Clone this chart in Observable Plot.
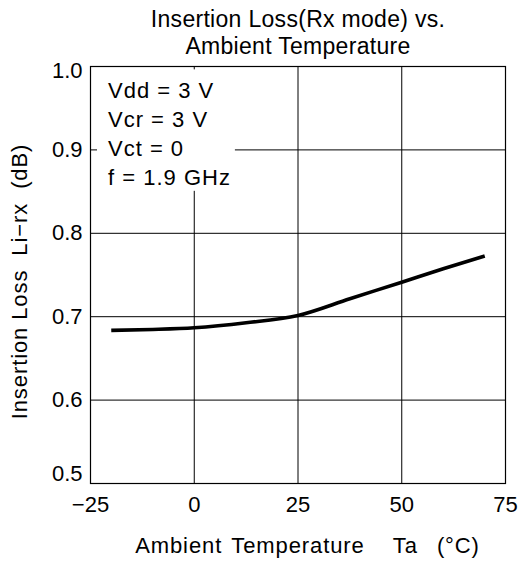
<!DOCTYPE html>
<html>
<head>
<meta charset="utf-8">
<script src="https://cdn.jsdelivr.net/npm/d3@7"></script>
<script src="https://cdn.jsdelivr.net/npm/@observablehq/plot@0.6"></script>
<style>
  html, body { margin: 0; padding: 0; background: #fff; }
  svg text { font-family: "Liberation Sans", Arial, Helvetica, sans-serif; }
  .cond text { letter-spacing: 1px; }
  .lbl text { letter-spacing: 0.9px; }
  .xlbl text { letter-spacing: 0.9px; word-spacing: 2.5px; }
  .ttl text { letter-spacing: 0.3px; }
</style>
</head>
<body>
<div id="chart"></div>
<script>
// ---- data ----
const titleLines = ["Insertion Loss(Rx mode) vs.", "Ambient Temperature"];
const xLabel = "Ambient Temperature   Ta  (°C)";
const yLabel = "Insertion Loss  Li−rx  (dB)";
const conditions = ["Vdd = 3 V", "Vcr = 3 V", "Vct = 0", "f = 1.9 GHz"];
const xTicks = [-25, 0, 25, 50, 75];
const yTicks = [0.5, 0.6, 0.7, 0.8, 0.9, 1.0];
const temps = [-20, -10, 0, 12.5, 25, 37.5, 50, 60, 70];
const loss = [0.6836, 0.6847, 0.6867, 0.6927, 0.7015, 0.7215, 0.7414, 0.7574, 0.7727];

const curve = temps.map((t, i) => ({t, v: loss[i]}));
const font = "Liberation Sans, Arial, Helvetica, sans-serif";

const chart = Plot.plot({
  width: 525,
  height: 563,
  marginLeft: 90,
  marginRight: 20,
  marginTop: 66,
  marginBottom: 80,
  style: {fontFamily: font, fontSize: "22px", color: "#000", background: "#fff"},
  x: {domain: [-25, 75], ticks: xTicks},
  y: {domain: [0.5, 1.0], ticks: yTicks},
  marks: [
    Plot.gridX(xTicks.slice(1, -1), {stroke: "#000", strokeOpacity: 1, strokeWidth: 1}),
    Plot.gridY(yTicks.slice(1, -1), {stroke: "#000", strokeOpacity: 1, strokeWidth: 1}),
    Plot.frame({stroke: "#000", strokeWidth: 1.2}),
    Plot.axisX({ticks: xTicks, tickSize: 0, tickPadding: 13, fontSize: 22, label: null, tickFormat: d => d < 0 ? "−" + Math.abs(d) : String(d)}),
    Plot.axisY({ticks: yTicks.filter(d => d > 0.5 && d < 1), tickSize: 0, tickPadding: 8, fontSize: 22, label: null, tickFormat: ".1f"}),
    Plot.axisY({ticks: [1.0], tickSize: 0, tickPadding: 8, fontSize: 22, label: null, tickFormat: ".1f", dy: 4}),
    Plot.axisY({ticks: [0.5], tickSize: 0, tickPadding: 8, fontSize: 22, label: null, tickFormat: ".1f", dy: -10}),
    Plot.line(curve, {x: "t", y: "v", curve: "monotone-x", stroke: "#000", strokeWidth: 3.6, strokeLinecap: "butt"}),
    Plot.text([conditions.join("\n")], {
      frameAnchor: "top-left", textAnchor: "start", lineAnchor: "top",
      dx: 17.5, dy: 11.2, fontSize: 22, lineHeight: 1.31, fill: "#000", className: "cond"
    }),
    Plot.text([titleLines.join("\n")], {
      frameAnchor: "top", lineAnchor: "bottom", dy: -13, fontSize: 23, lineHeight: 1.174, fill: "#000", className: "ttl"
    }),
    Plot.text([xLabel], {
      frameAnchor: "bottom", lineAnchor: "bottom", dx: 9.5, dy: 69, fontSize: 22, fill: "#000", className: "xlbl"
    }),
    Plot.text([yLabel], {
      frameAnchor: "left", textAnchor: "middle", rotate: -90, lineAnchor: "top", dx: -79, dy: 6.5, fontSize: 22, fill: "#000", className: "lbl"
    })
  ]
});
document.getElementById("chart").appendChild(chart);

// white background box behind the condition text (gaps the grid lines)
const g = chart.querySelector("g.cond");
if (g) {
  const b = g.getBBox();
  const ns = "http://www.w3.org/2000/svg";
  const r = document.createElementNS(ns, "rect");
  r.setAttribute("x", b.x - 11);
  r.setAttribute("y", b.y - 8.8);
  r.setAttribute("width", b.width + 15);
  r.setAttribute("height", b.height + 10);
  r.setAttribute("fill", "#fff");
  const tr = g.getAttribute("transform");
  if (tr) r.setAttribute("transform", tr);
  g.parentNode.insertBefore(r, g);
}
</script>
</body>
</html>
